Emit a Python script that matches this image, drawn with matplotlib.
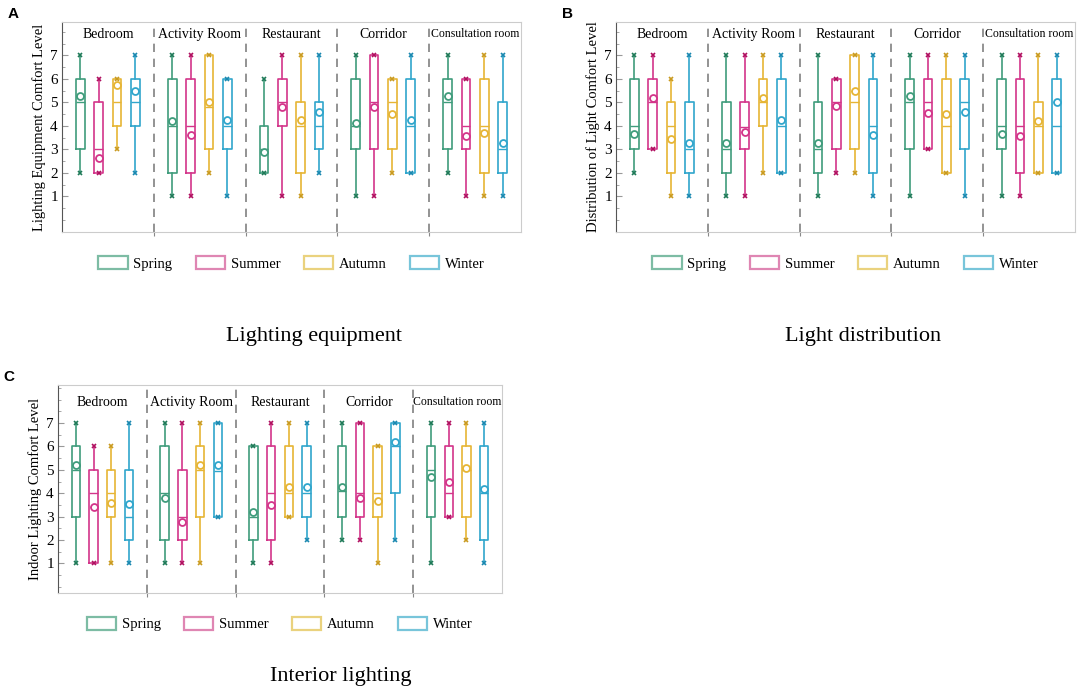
import matplotlib
matplotlib.use("Agg")
import matplotlib.pyplot as plt
from matplotlib.patches import Rectangle
from matplotlib.ticker import MultipleLocator, FixedLocator

plt.rcParams['font.family'] = ['Liberation Serif', 'DejaVu Serif']

rooms = ["Bedroom", "Activity Room", "Restaurant", "Corridor", "Consultation room"]
seasons = ["Spring", "Summer", "Autumn", "Winter"]

# rows: rooms, columns: seasons
# A - lighting equipment
a_min = [[2, 2, 3, 2], [1, 1, 2, 1], [2, 1, 1, 2], [1, 1, 2, 2], [2, 1, 1, 1]]
a_q1 = [[3, 2, 4, 4], [2, 2, 3, 3], [2, 4, 2, 3], [3, 3, 3, 2], [3, 3, 2, 2]]
a_med = [[5, 3, 5, 5], [4, 4, 4.8, 4], [3, 5, 4, 4], [4, 5, 5, 4], [5, 4, 4, 3]]
a_q3 = [[6, 5, 6, 6], [6, 6, 7, 6], [4, 6, 5, 5], [6, 7, 6, 6], [6, 6, 6, 5]]
a_max = [[7, 6, 6, 7], [7, 7, 7, 6], [6, 7, 7, 7], [7, 7, 6, 7], [7, 6, 7, 7]]
a_mean = [[5.25, 2.65, 5.75, 5.5], [4.2, 3.6, 5.0, 4.25], [2.9, 4.8, 4.25, 4.6],
          [4.1, 4.8, 4.5, 4.25], [5.25, 3.55, 3.7, 3.25]]

# B - light distribution
b_min = [[2, 3, 1, 1], [1, 1, 2, 2], [1, 2, 2, 1], [1, 3, 2, 1], [1, 1, 2, 2]]
b_q1 = [[3, 3, 2, 2], [2, 3, 4, 2], [2, 3, 3, 2], [3, 3, 2, 3], [3, 2, 2, 2]]
b_med = [[4, 5, 4, 3], [3, 3.95, 5, 4], [3, 5, 5, 4], [5, 5, 4, 5], [4, 4, 4, 4]]
b_q3 = [[6, 6, 5, 5], [5, 5, 6, 6], [5, 6, 7, 6], [6, 6, 6, 6], [6, 6, 5, 6]]
b_max = [[7, 7, 6, 7], [7, 7, 7, 7], [7, 6, 7, 7], [7, 7, 7, 7], [7, 7, 7, 7]]
b_mean = [[3.65, 5.2, 3.45, 3.25], [3.25, 3.75, 5.2, 4.25], [3.25, 4.85, 5.5, 3.6],
          [5.25, 4.55, 4.5, 4.6], [3.65, 3.55, 4.2, 5.0]]

# C - interior lighting
c_min = [[1, 1, 1, 1], [1, 1, 1, 3], [1, 1, 3, 2], [2, 2, 1, 2], [1, 3, 2, 1]]
c_q1 = [[3, 1, 3, 2], [2, 2, 3, 3], [2, 2, 3, 3], [3, 3, 3, 4], [3, 3, 3, 2]]
c_med = [[5, 4, 4, 3], [4, 3, 5, 4.95], [3, 4, 4, 4], [4.1, 4, 4, 6], [5, 4, 5, 4]]
c_q3 = [[6, 5, 5, 5], [6, 5, 6, 7], [6, 6, 6, 6], [6, 7, 6, 7], [6, 6, 6, 6]]
c_max = [[7, 6, 6, 7], [7, 7, 7, 7], [6, 7, 7, 7], [7, 7, 6, 7], [7, 7, 7, 7]]
c_mean = [[5.2, 3.4, 3.6, 3.55], [3.8, 2.75, 5.2, 5.2], [3.2, 3.5, 4.25, 4.25],
          [4.25, 3.8, 3.65, 6.2], [4.7, 4.5, 5.1, 4.2]]

colors = ["#3f9c7c", "#d3358a", "#e6b535", "#30a6cc"]
dark = ["#1f7a58", "#b01060", "#c99a20", "#1a88b0"]
legend_cols = ["#7dbca4", "#df86b3", "#ead27e", "#78c5da"]

fig = plt.figure(figsize=(10.84, 6.98), dpi=100)


def draw_panel(rect, ylim, mins, q1s, meds, q3s, maxs, means, ylabel, letter, title, title_xy):
    ax = fig.add_axes(rect)
    for i in range(len(rooms)):
        for j in range(len(seasons)):
            pos = i + (j - 1.5) * 0.2
            st = [{'whislo': mins[i][j], 'q1': q1s[i][j], 'med': meds[i][j],
                   'q3': q3s[i][j], 'whishi': maxs[i][j], 'mean': means[i][j],
                   'fliers': []}]
            c = colors[j]
            ax.bxp(st, positions=[pos], widths=0.095, showcaps=False, showfliers=False,
                   showmeans=True,
                   boxprops=dict(color=c, linewidth=1.2),
                   whiskerprops=dict(color=c, linewidth=1.2),
                   medianprops=dict(color=c, linewidth=1.0),
                   meanprops=dict(marker='o', markersize=5, markerfacecolor='white',
                                  markeredgecolor=c, markeredgewidth=1.3))
            ax.plot([pos], [means[i][j]], marker='_', markersize=6, color=c, mew=1.0)
            ax.plot([pos, pos], [mins[i][j], maxs[i][j]], linestyle='none', marker='x',
                    markersize=3.5, color=dark[j], mew=1.2)
    for k in range(len(rooms) - 1):
        ax.axvline(k + 0.5, color='#808080', linestyle=(0, (5, 4)), linewidth=1.2)
    for i, r in enumerate(rooms):
        fs = 8.5 if len(r) > 14 else 10
        ax.text(i, 7.9, r, ha='center', va='center', fontsize=fs)
    ax.set_xlim(-0.5, 4.5)
    ax.set_ylim(*ylim)
    ax.yaxis.set_major_locator(FixedLocator([1, 2, 3, 4, 5, 6, 7]))
    ax.yaxis.set_minor_locator(MultipleLocator(0.5))
    ax.tick_params(axis='y', which='both', direction='in', color='#999999', labelsize=11,
                   length=4, pad=3)
    ax.tick_params(axis='y', which='minor', length=2.5)
    ax.set_xticks([0.5, 1.5, 2.5, 3.5])
    ax.set_xticklabels([])
    ax.tick_params(axis='x', direction='out', length=3, color='#888888')
    for s in ['top', 'right', 'bottom']:
        ax.spines[s].set_color('#cccccc')
    ax.spines['left'].set_color('#555555')
    ax.set_ylabel(ylabel, fontsize=10.5, labelpad=3)
    handles = [Rectangle((0, 0), 1, 1, facecolor='none', edgecolor=legend_cols[j], linewidth=1.6)
               for j in range(len(seasons))]
    ax.legend(handles, seasons, loc='center', bbox_to_anchor=(0.5, -0.15), ncol=4,
              frameon=False, fontsize=10.5, handlelength=2.0, handleheight=1.0,
              columnspacing=1.6, handletextpad=0.4)
    fig.text(rect[0] - 0.045, rect[1] + rect[3] + 0.012, letter, fontsize=11,
             fontweight='bold', family='Liberation Sans', ha='center', va='center')
    fig.text(title_xy[0] / 1084, 1 - title_xy[1] / 698, title, fontsize=16,
             ha='center', va='center')
    return ax


draw_panel([0.0572, 0.6676, 0.4234, 0.3009], (-0.52, 8.42),
           a_min, a_q1, a_med, a_q3, a_max, a_mean,
           "Lighting Equipment Comfort Level", "A", "Lighting equipment", (314, 337))
draw_panel([0.5683, 0.6676, 0.4234, 0.3009], (-0.52, 8.42),
           b_min, b_q1, b_med, b_q3, b_max, b_mean,
           "Distribution of Light Comfort Level", "B", "Light distribution", (863, 337))
draw_panel([0.0535, 0.1504, 0.4096, 0.298], (-0.27, 8.63),
           c_min, c_q1, c_med, c_q3, c_max, c_mean,
           "Indoor Lighting Comfort Level", "C", "Interior lighting", (341, 677))

fig.savefig("out.png", dpi=100)
